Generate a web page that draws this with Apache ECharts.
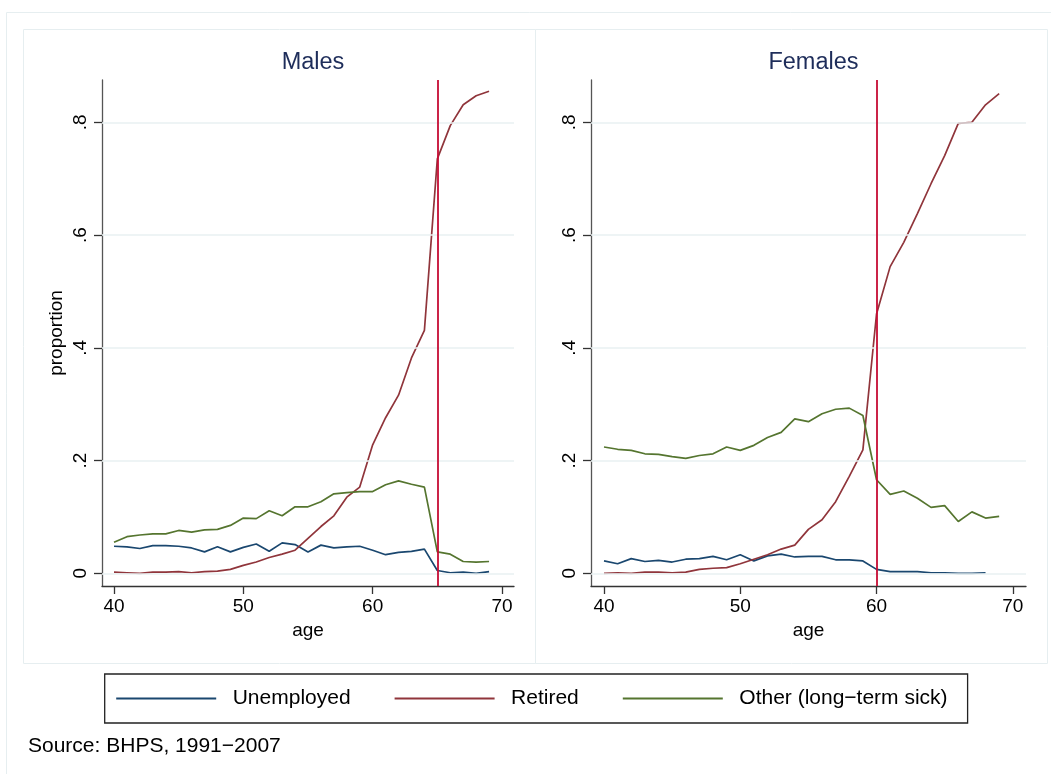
<!DOCTYPE html>
<html>
<head>
<meta charset="utf-8">
<script src="https://cdn.jsdelivr.net/npm/echarts@6/dist/echarts.min.js"></script>
<style>
html,body{margin:0;padding:0;background:#fff;}
#chart{width:1051px;height:774px;}
</style>
</head>
<body>
<div id="chart"></div>
<script>
const ages = [40,41,42,43,44,45,46,47,48,49,50,51,52,53,54,55,56,57,58,59,60,61,62,63,64,65,66,67,68,69];
const seriesNames = ['Unemployed', 'Retired', 'Other (long\u2212term sick)'];
const panelNames = ['Males', 'Females'];
const pensionAge = [65, 60];
const xTicks = [40, 50, 60, 70];
const yTicks = [0, 0.2, 0.4, 0.6, 0.8];
const yTickLabels = ['0', '.2', '.4', '.6', '.8'];

const maleUnemployed = [0.048,0.047,0.044,0.049,0.049,0.048,0.045,0.038,0.047,0.038,0.046,0.052,0.039,0.054,0.051,0.038,0.050,0.045,0.047,0.048,0.041,0.033,0.037,0.039,0.043,0.005,0.001,0.002,0.000,0.003];
const maleRetired = [0.002,0.001,0.000,0.002,0.002,0.003,0.001,0.003,0.004,0.007,0.014,0.020,0.028,0.034,0.041,0.062,0.083,0.102,0.135,0.153,0.228,0.276,0.316,0.382,0.431,0.735,0.794,0.831,0.847,0.855];
const maleOther = [0.055,0.065,0.068,0.070,0.070,0.076,0.073,0.077,0.078,0.085,0.098,0.097,0.111,0.102,0.118,0.118,0.127,0.141,0.143,0.145,0.145,0.157,0.164,0.158,0.153,0.038,0.034,0.021,0.020,0.021];

const femaleUnemployed = [0.022,0.017,0.026,0.021,0.023,0.020,0.025,0.026,0.030,0.024,0.033,0.022,0.031,0.034,0.029,0.030,0.030,0.024,0.024,0.022,0.007,0.003,0.003,0.003,0.001,0.001,0.000,0.000,0.001,null];
const femaleRetired = [0.000,0.001,0.000,0.002,0.002,0.001,0.002,0.007,0.009,0.010,0.017,0.025,0.033,0.043,0.050,0.078,0.095,0.127,0.172,0.219,0.460,0.544,0.587,0.638,0.691,0.741,0.798,0.800,0.831,0.851];
const femaleOther = [0.224,0.220,0.218,0.212,0.211,0.207,0.204,0.209,0.212,0.224,0.218,0.227,0.241,0.250,0.274,0.269,0.283,0.291,0.293,0.280,0.166,0.140,0.146,0.133,0.117,0.120,0.092,0.109,0.098,0.101];

const colors = ['#1a476f', '#90353b', '#55752f'];
const FONT = 'Liberation Sans, Arial, Helvetica, sans-serif';

const panelData = [
  [maleUnemployed, maleRetired, maleOther],
  [femaleUnemployed, femaleRetired, femaleOther]
];

const grids = [
  {left: 102, top: 80, width: 412, height: 506, outerBoundsMode: 'none'},
  {left: 591, top: 80, width: 435, height: 506, outerBoundsMode: 'none'}
];
const xRange = [[39.072, 70.928], [39.046, 70.97]];
const yRange = [-0.0225, 0.875];

function yLabel(v) {
  let best = 0, bd = Infinity;
  yTicks.forEach((t, i) => { const d = Math.abs(t - v); if (d < bd) { bd = d; best = i; } });
  return yTickLabels[best];
}

const xAxes = [], yAxes = [], series = [], titles = [];
panelNames.forEach((p, gi) => {
  xAxes.push({
    type: 'value', gridIndex: gi, min: xRange[gi][0], max: xRange[gi][1],
    name: 'age', nameLocation: 'middle', nameGap: 30,
    nameTextStyle: {fontFamily: FONT, fontSize: 19, color: '#000'},
    axisLine: {show: true, onZero: false, lineStyle: {color: '#333', width: 1.3}},
    axisTick: {show: true, length: 8, customValues: xTicks, lineStyle: {color: '#333', width: 1.3}},
    axisLabel: {show: true, customValues: xTicks, margin: 11, fontFamily: FONT, fontSize: 19, color: '#000'},
    splitLine: {show: false}
  });
  yAxes.push({
    type: 'value', gridIndex: gi, min: yRange[0], max: yRange[1],
    name: gi === 0 ? 'proportion' : '', nameLocation: 'middle', nameGap: 36,
    nameTextStyle: {fontFamily: FONT, fontSize: 19, color: '#000'},
    axisLine: {show: true, onZero: false, lineStyle: {color: '#555', width: 1.3}},
    axisTick: {show: true, length: 8, customValues: yTicks, lineStyle: {color: '#333', width: 1.3}},
    axisLabel: {show: true, customValues: yTicks, rotate: 90, margin: 12, fontFamily: FONT, fontSize: 19, color: '#000',
      formatter: v => yLabel(v)},
    splitLine: {show: false}
  });
  titles.push({
    text: p, left: grids[gi].left + grids[gi].width / 2, top: 46, textAlign: 'center',
    textStyle: {fontFamily: FONT, fontSize: 23.5, fontWeight: 'normal', color: '#1e2d5a'}
  });
  // gridlines
  series.push({
    type: 'line', xAxisIndex: gi, yAxisIndex: gi, data: [], z: 1, silent: true,
    markLine: {silent: true, symbol: 'none', label: {show: false},
      lineStyle: {color: '#e8f0f2', width: 1.5, type: 'solid'},
      data: yTicks.map(t => ({yAxis: t}))}
  });
  panelData[gi].forEach((arr, si) => {
    series.push({
      name: seriesNames[si], type: 'line', xAxisIndex: gi, yAxisIndex: gi, z: 3,
      data: ages.map((a, i) => [a, arr[i]]),
      showSymbol: false, symbol: 'none', connectNulls: false,
      lineStyle: {color: colors[si], width: 1.7}, itemStyle: {color: colors[si]},
      emphasis: {disabled: true}
    });
  });
  // pension-age reference line
  series.push({
    type: 'line', xAxisIndex: gi, yAxisIndex: gi, data: [], z: 4, silent: true,
    markLine: {silent: true, symbol: 'none', label: {show: false},
      lineStyle: {color: '#c60c34', width: 1.8, type: 'solid'},
      data: [{xAxis: pensionAge[gi]}]}
  });
});

const chart = echarts.init(document.getElementById('chart'), null, {renderer: 'canvas'});
chart.setOption({
  animation: false,
  backgroundColor: '#fff',
  title: titles,
  grid: grids,
  xAxis: xAxes,
  yAxis: yAxes,
  legend: {
    data: seriesNames,
    left: 104.7, top: 674,
    orient: 'horizontal',
    padding: [14, 20, 14, 11.5],
    itemGap: 44,
    itemWidth: 100, itemHeight: 21,
    borderColor: '#222', borderWidth: 1.3,
    selectedMode: false,
    icon: 'path://M0,10 L100,10 L100,11.8 L0,11.8 Z',
    textStyle: {fontFamily: FONT, fontSize: 21, color: '#000', padding: [0, 0, 0, 11.5], lineHeight: 21}
  },
  graphic: [
    {type: 'rect', shape: {x: 6.5, y: 12.5, width: 1060, height: 800}, style: {fill: 'none', stroke: '#e6eef0', lineWidth: 1}, z: -10, silent: true},
    {type: 'rect', shape: {x: 23.5, y: 29.5, width: 512, height: 634}, style: {fill: 'none', stroke: '#e6eef0', lineWidth: 1}, z: -10, silent: true},
    {type: 'rect', shape: {x: 535.5, y: 29.5, width: 512, height: 634}, style: {fill: 'none', stroke: '#e6eef0', lineWidth: 1}, z: -10, silent: true},
    {type: 'text', left: 28, top: 736, style: {text: 'Source: BHPS, 1991\u22122007', fontFamily: FONT, fontSize: 21, fill: '#000'}, silent: true}
  ],
  series: series
});
</script>
</body>
</html>
